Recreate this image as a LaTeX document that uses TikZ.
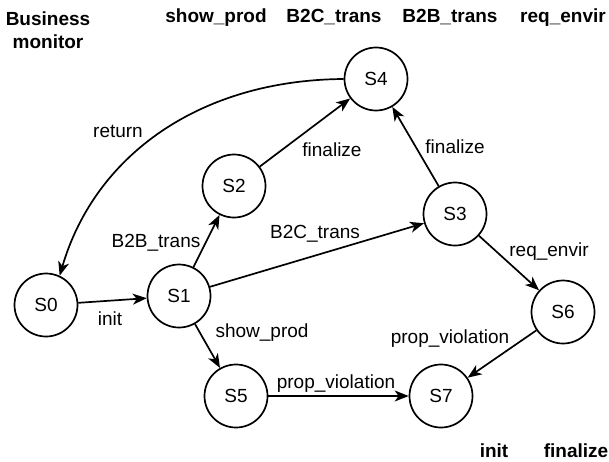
\documentclass[tikz,border=0pt]{standalone}
\usepackage{fontspec}
\setmainfont{Liberation Sans}
\usetikzlibrary{arrows.meta}
\begin{document}
\begin{tikzpicture}[x=1pt,y=-1pt,
  state/.style={circle,draw,line width=1.7pt,minimum size=63pt,inner sep=0pt,font=\fontsize{19}{22}\selectfont},
  lab/.style={anchor=base,inner sep=0pt,font=\fontsize{19}{22}\selectfont},
  head/.style={anchor=base,inner sep=0pt,font=\fontsize{19}{22}\selectfont\bfseries},
  arr/.style={line width=1.7pt,-{Stealth[length=14pt,width=11pt,inset=4pt]}}]
\useasboundingbox (0,0) rectangle (609,461);
\node[state] (S0) at (46,305) {S0};
\node[state] (S1) at (179,296) {S1};
\node[state] (S2) at (234,186) {S2};
\node[state] (S3) at (455,214) {S3};
\node[state] (S4) at (376,79) {S4};
\node[state] (S5) at (236,396) {S5};
\node[state] (S6) at (563,312) {S6};
\node[state] (S7) at (441,396) {S7};
\draw[arr] (S0) -- (S1);
\draw[arr] (S1) -- (S2);
\draw[arr] (S1) -- (S3);
\draw[arr] (S1) -- (S5);
\draw[arr] (S2) -- (S4);
\draw[arr] (S3) -- (S4);
\draw[arr] (S3) -- (S6);
\draw[arr] (S6) -- (S7);
\draw[arr] (S5) -- (S7);
\draw[arr] (S4.west) .. controls (200,80) and (95,155) .. (S0.65);
\node[lab] (linit) at (110,325) {init};
\node[lab] (lb2b) at (156,247) {B2B\_trans};
\node[lab] (lb2c) at (315,238) {B2C\_trans};
\node[lab] (lshow) at (262,337) {show\_prod};
\node[lab] (lfin1) at (332,156) {finalize};
\node[lab] (lfin2) at (455,153) {finalize};
\node[lab] (lreq) at (549,256) {req\_envir};
\node[lab] (lpv1) at (450,343) {prop\_violation};
\node[lab] (lpv2) at (336,388) {prop\_violation};
\node[lab] (lret) at (118,137) {return};
\node[head] (hbm) at (48,25) {Business};
\node[head] (hbm2) at (48,48) {monitor};
\node[head] (hsp) at (216,22) {show\_prod};
\node[head] (hb2c) at (334,22) {B2C\_trans};
\node[head] (hb2b) at (450,22) {B2B\_trans};
\node[head] (hreq) at (563,22) {req\_envir};
\node[head] (hinit) at (494,457) {init};
\node[head] (hfin) at (576,457) {finalize};
\end{tikzpicture}
\end{document}
